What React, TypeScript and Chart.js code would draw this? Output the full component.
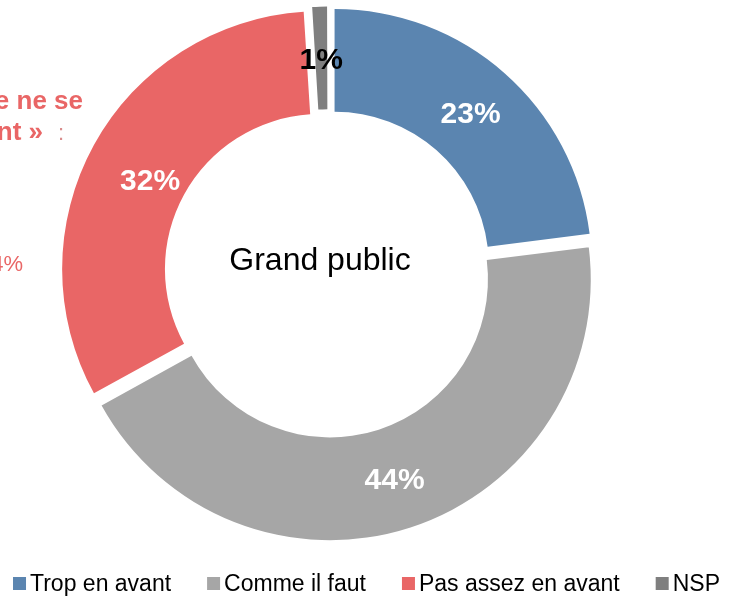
import React, { useEffect, useRef } from "react";
import { Chart, registerables } from "chart.js";

Chart.register(...registerables);

const categories = ["Trop en avant", "Comme il faut", "Pas assez en avant", "NSP"];
const values = [23, 44, 32, 1];
const valueLabels = ["23%", "44%", "32%", "1%"];
const colors = ["#5B85B0", "#A6A6A6", "#E96666", "#7F7F7F"];
const labelColors = ["#FFFFFF", "#FFFFFF", "#FFFFFF", "#000000"];
const centerTitle = "Grand public";
const sideFragments = ["e ne se", "nt »", ":", "4%"];

const FONT = '"Liberation Sans", Arial, Helvetica, sans-serif';
const EXPLODE = 10; // px each slice is pulled out
const labelNudge = [
  [0, 0],
  [0, 0],
  [11, 10],
  [0, 0],
];

// Chart.js translates an arc by offset/4 * (1 + fix), fix = 1 - sin(min(PI, circumference)).
// Pick the offset option so every slice is pulled out by the same distance.
function sliceOffset(ctx: any) {
  const total = values.reduce((s, v) => s + v, 0);
  const circ = (2 * Math.PI * values[ctx.dataIndex]) / total;
  const fix = 1 - Math.sin(Math.min(Math.PI, circ));
  return (EXPLODE * 4) / (1 + fix);
}

const drawPlugin = {
  id: "customDraw",
  afterDatasetsDraw(chart: any) {
    const ctx = chart.ctx;
    const meta = chart.getDatasetMeta(0);
    ctx.save();
    ctx.font = `bold 30px ${FONT}`;
    ctx.textAlign = "center";
    ctx.textBaseline = "alphabetic";
    meta.data.forEach((arc: any, i: number) => {
      const p = arc.getProps(["x", "y", "startAngle", "endAngle", "innerRadius", "outerRadius"]);
      const mid = (p.startAngle + p.endAngle) / 2;
      const r = (p.innerRadius + p.outerRadius) / 2 + EXPLODE;
      const x = p.x + Math.cos(mid) * r + labelNudge[i][0];
      const y = p.y + Math.sin(mid) * r + labelNudge[i][1];
      ctx.fillStyle = labelColors[i];
      ctx.fillText(valueLabels[i], x, y + 0.358 * 30);
    });
    const a0 = meta.data[0];
    ctx.fillStyle = "#000000";
    ctx.font = `32px ${FONT}`;
    ctx.fillText(centerTitle, a0.x - 8, a0.y - 3.5);
    ctx.restore();
  },
  afterDraw(chart: any) {
    const ctx = chart.ctx;
    ctx.save();
    ctx.fillStyle = "#E96666";
    ctx.textBaseline = "alphabetic";
    ctx.textAlign = "right";
    ctx.font = `bold 26px ${FONT}`;
    ctx.fillText(sideFragments[0], 83, 109);
    ctx.fillText(sideFragments[1], 43, 140);
    ctx.textAlign = "center";
    ctx.font = `22px ${FONT}`;
    ctx.fillStyle = "#D98C8C";
    ctx.fillText(sideFragments[2], 61, 140);
    ctx.textAlign = "right";
    ctx.fillStyle = "#E96666";
    ctx.fillText(sideFragments[3], 23, 271);

    const fs = 23;
    const box = 13;
    const boxGap = 4;
    const itemGap = 36;
    ctx.font = `${fs}px ${FONT}`;
    ctx.textAlign = "left";
    const widths = categories.map((t) => box + boxGap + ctx.measureText(t).width);
    const total = widths.reduce((s, w) => s + w, 0) + itemGap * (categories.length - 1);
    let x = (chart.width - total) / 2 - 2;
    categories.forEach((t, i) => {
      ctx.fillStyle = colors[i];
      ctx.fillRect(x, 577, box, box);
      ctx.fillStyle = "#000000";
      ctx.fillText(t, x + box + boxGap, 591);
      x += widths[i] + itemGap;
    });
    ctx.restore();
  },
};

export default function App() {
  const ref = useRef<HTMLCanvasElement | null>(null);
  useEffect(() => {
    document.body.style.margin = "0";
    if (!ref.current) return;
    const chart = new Chart(ref.current, {
      type: "doughnut",
      data: {
        labels: categories,
        datasets: [
          {
            data: values,
            backgroundColor: colors,
            borderWidth: 0,
            offset: sliceOffset,
            hoverOffset: 0,
          },
        ],
      },
      options: {
        responsive: false,
        animation: false,
        cutout: "60%",
        radius: 257,
        layout: { padding: { left: 0, right: 81, top: 11.5, bottom: 62.5 } },
        plugins: {
          legend: { display: false },
          tooltip: { enabled: false },
        },
      },
      plugins: [drawPlugin],
    });
    return () => chart.destroy();
  }, []);
  return (
    <div style={{ width: 737, height: 598, background: "#FFFFFF" }}>
      <canvas ref={ref} width={737} height={598} style={{ display: "block" }} />
    </div>
  );
}
